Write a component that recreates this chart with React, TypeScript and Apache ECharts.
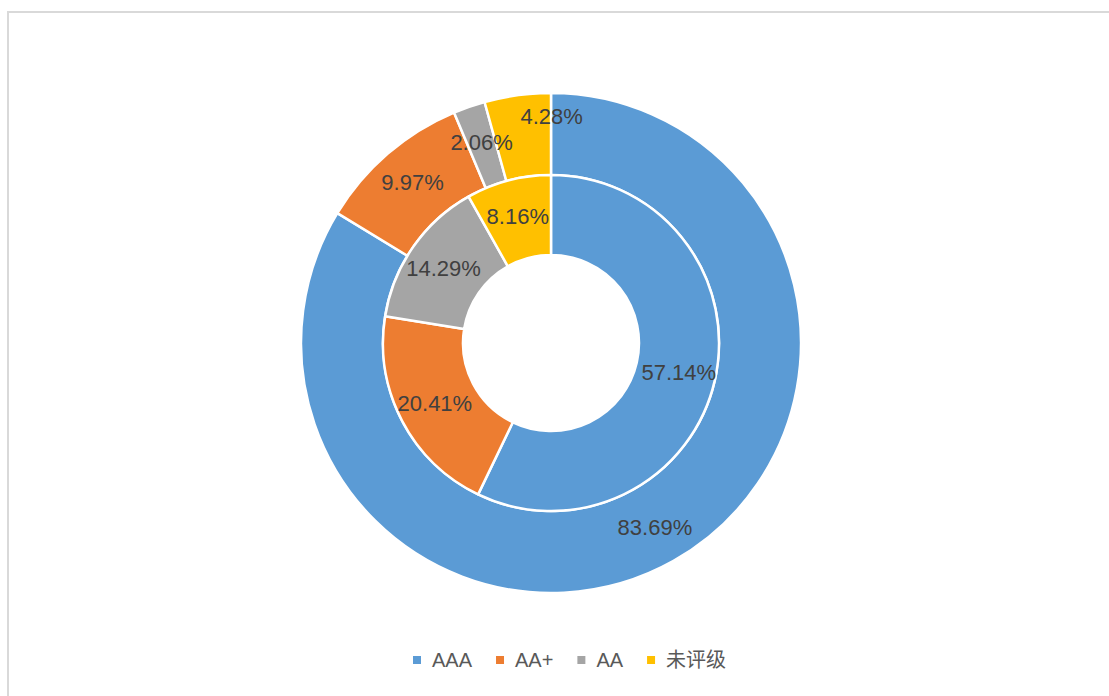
import React, { useEffect, useRef } from "react";
import * as echarts from "echarts";

const categories = ["AAA", "AA+", "AA", "未评级"];
const outerValues = [83.69, 9.97, 2.06, 4.28];
const innerValues = [57.14, 20.41, 14.29, 8.16];
const colors = ["#5b9bd5", "#ed7d31", "#a5a5a5", "#ffc000"];

export default function App() {
  const ref = useRef<HTMLDivElement>(null);
  useEffect(() => {
    if (!ref.current) return;
    const chart = echarts.init(ref.current, null, { renderer: "svg" });
    const label = {
      show: true,
      position: "inside",
      formatter: (p: any) => p.value.toFixed(2) + "%",
      color: "#404040",
      fontSize: 22,
      fontFamily: "Liberation Sans, Arial, sans-serif",
    };
    const mk = (vals: number[], outer: boolean) =>
      categories.map((c, i) => {
        const d: any = { name: c, value: vals[i], itemStyle: { color: colors[i] } };
        if (outer && i === 3) d.label = { offset: [29, -16] };
        return d;
      });
    chart.setOption({
      animation: false,
      backgroundColor: "#ffffff",
      color: colors,
      graphic: [
        {
          type: "rect",
          shape: { x: 8, y: 12, width: 1300, height: 900 },
          style: { fill: "none", stroke: "#d9d9d9", lineWidth: 2 },
          silent: true,
        },
      ],
      legend: {
        data: categories,
        bottom: 21,
        left: 406,
        itemWidth: 10,
        itemHeight: 10,
        icon: "rect",
        itemGap: 22,
        textStyle: {
          color: "#595959",
          fontSize: 20,
          padding: [0, 0, 0, 5],
          fontFamily: "Liberation Sans, Noto Sans CJK SC, sans-serif",
        },
      },
      series: [
        {
          type: "pie",
          center: [551, 343],
          radius: [168, 250],
          startAngle: 90,
          clockwise: true,
          avoidLabelOverlap: false,
          label,
          labelLine: { show: false },
          labelLayout: { hideOverlap: false },
          itemStyle: { borderColor: "#ffffff", borderWidth: 2.5 },
          data: mk(outerValues, true),
        },
        {
          type: "pie",
          center: [551, 343],
          radius: [88, 168],
          startAngle: 90,
          clockwise: true,
          avoidLabelOverlap: false,
          label,
          labelLine: { show: false },
          labelLayout: { hideOverlap: false },
          itemStyle: { borderColor: "#ffffff", borderWidth: 2.5 },
          data: mk(innerValues, false),
        },
      ],
    });
    return () => chart.dispose();
  }, []);
  return (
    <div
      ref={ref}
      style={{ position: "fixed", left: 0, top: 0, width: 1109, height: 696 }}
    />
  );
}
